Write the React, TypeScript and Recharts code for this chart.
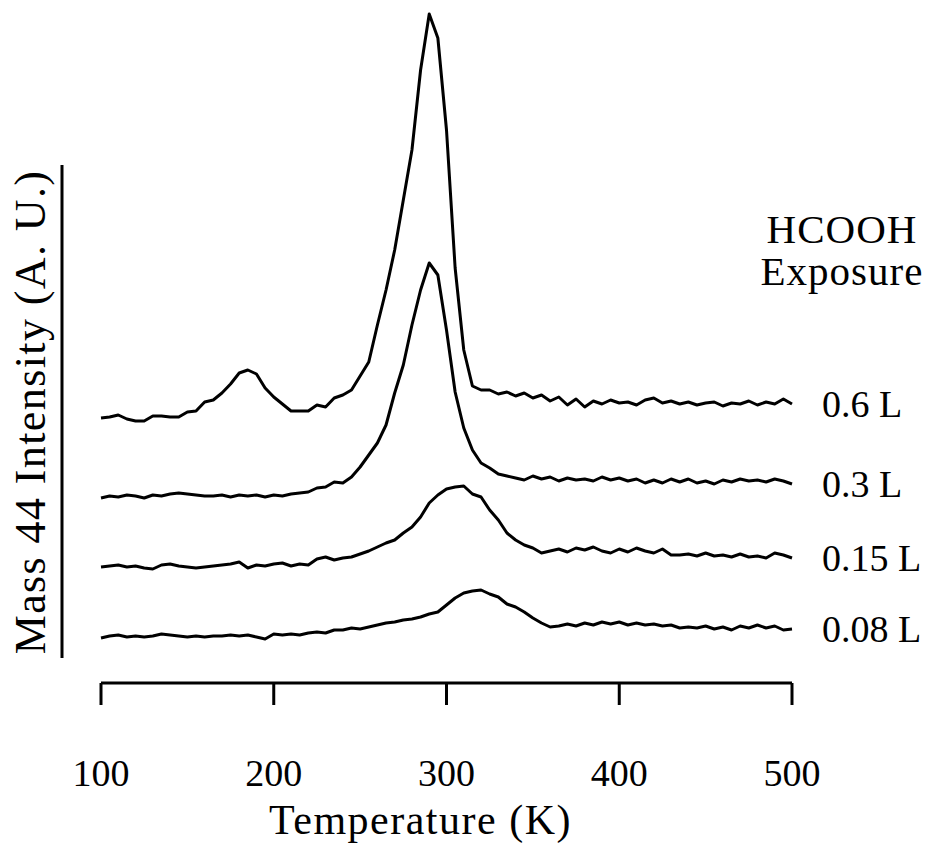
import { LineChart, Line, XAxis, YAxis } from 'recharts'

// temperature grid (K)
const temperatures = [
  100, 105, 110, 115, 120, 125, 130, 135, 140, 145,
  150, 155, 160, 165, 170, 175, 180, 185, 190, 195,
  200, 205, 210, 215, 220, 225, 230, 235, 240, 245,
  250, 255, 260, 265, 270, 275, 280, 285, 290, 295,
  300, 305, 310, 315, 320, 325, 330, 335, 340, 345,
  350, 355, 360, 365, 370, 375, 380, 385, 390, 395,
  400, 405, 410, 415, 420, 425, 430, 435, 440, 445,
  450, 455, 460, 465, 470, 475, 480, 485, 490, 495,
  500,
]

const exposures = ['0.6 L', '0.3 L', '0.15 L', '0.08 L']
// vertical offsets used to stack the traces
const offsets = [53, 37, 23, 9]

// mass 44 signal, A.U., above each trace's offset
const signal06 = [
  0, 0.2, 0.6, -0.2, -0.6, -0.6, 0.4, 0.4, 0.2, 0.2,
  1.2, 1.4, 3.2, 3.6, 5.0, 6.8, 9.0, 9.6, 8.8, 6.0,
  4.2, 2.8, 1.4, 1.4, 1.4, 2.6, 2.2, 4.0, 4.6, 5.6,
  8.4, 11.2, 18.6, 25.6, 33.6, 43.6, 53.6, 69.6, 80.8, 76.0,
  57.6, 30.0, 13.6, 6.4, 5.6, 5.6, 4.8, 5.2, 4.4, 5.0,
  4.0, 4.6, 3.4, 4.2, 2.6, 3.8, 2.2, 3.4, 2.8, 3.6,
  3.0, 3.2, 2.6, 3.6, 4.0, 3.0, 3.4, 2.8, 3.2, 2.6,
  3.0, 3.2, 2.4, 3.0, 2.8, 3.4, 2.6, 3.2, 2.8, 3.8,
  2.8,
]
const signal03 = [
  0, 0.4, 0.2, 0.6, 0.4, 0, 0.6, 0.4, 0.8, 1.0,
  0.8, 0.6, 0.4, 0.4, 0.6, 0.2, 0.6, 0.4, 0.6, 0.2,
  0.6, 0.4, 0.8, 1.0, 1.2, 2.0, 2.2, 3.2, 3.0, 4.2,
  6.2, 8.6, 11.0, 14.6, 21.0, 26.6, 34.6, 41.6, 47.0, 44.6,
  33.6, 21.2, 14.0, 9.6, 7.0, 6.0, 4.8, 4.4, 4.0, 3.6,
  4.4, 3.8, 4.2, 3.4, 4.0, 3.6, 3.8, 3.4, 4.2, 3.6,
  4.0, 3.4, 3.8, 3.0, 3.6, 3.0, 3.8, 3.2, 3.8, 3.0,
  3.4, 2.8, 3.6, 3.2, 3.8, 3.4, 3.6, 3.2, 3.8, 3.4,
  2.8,
]
const signal015 = [
  0.2, 0.4, 0.6, 0.2, 0.4, 0, -0.2, 0.6, 0.8, 0.4,
  0.2, 0, 0.2, 0.4, 0.6, 0.8, 1.2, 0, 0.6, 0.4,
  0.8, 1.0, 0.4, 0.8, 0.6, 1.8, 2.2, 1.6, 2.0, 2.2,
  2.8, 3.4, 4.2, 5.0, 5.6, 7.0, 8.2, 10.2, 13.0, 14.6,
  15.8, 16.2, 16.4, 14.8, 14.2, 11.6, 9.6, 7.0, 5.6, 4.6,
  4.0, 3.0, 3.4, 3.8, 3.2, 4.0, 3.6, 4.2, 3.4, 3.0,
  3.8, 3.2, 4.0, 3.4, 3.0, 3.8, 2.6, 2.6, 2.8, 2.4,
  3.0, 2.4, 2.6, 2.2, 2.8, 2.2, 2.4, 2.0, 3.0, 2.6,
  2.0,
]
const signal008 = [
  0, 0.4, 0.6, 0.2, 0.4, 0.2, 0.4, 0.8, 0.6, 0.4,
  0.2, 0.4, 0.2, 0.4, 0.4, 0.6, 0.4, 0.6, 0.2, -0.2,
  0.8, 0.6, 0.8, 0.6, 1.0, 1.2, 1.0, 1.6, 1.6, 2.0,
  1.8, 2.2, 2.6, 3.0, 3.2, 3.6, 3.8, 4.2, 4.8, 5.2,
  6.6, 8.0, 9.0, 9.4, 9.6, 8.8, 8.2, 6.8, 6.2, 5.2,
  4.0, 3.0, 2.2, 2.4, 2.8, 2.4, 3.0, 2.6, 3.2, 2.8,
  3.2, 2.6, 3.0, 2.6, 2.8, 2.4, 2.6, 2.0, 2.2, 2.0,
  2.4, 1.8, 2.2, 1.6, 2.4, 2.0, 2.6, 2.0, 2.4, 1.6,
  1.8,
]

const xTicks = [100, 200, 300, 400, 500]

const signals = [signal06, signal03, signal015, signal008]
const keys = ['s06', 's03', 's015', 's008']

const data = temperatures.map((t, i) => {
  const row: Record<string, number> = { t }
  keys.forEach((k, j) => {
    row[k] = offsets[j] + signals[j][i]
  })
  return row
})

const serif = '"Liberation Serif", "DejaVu Serif", serif'

const endLabel = (text: string) => (props: any) => {
  if (props.index !== temperatures.length - 1) return null
  const x = props.viewBox?.x ?? props.x
  const y = props.viewBox?.y ?? props.y
  return (
    <text x={x + 30} y={y} dy="0.35em" fill="#000" fontSize={38} fontFamily={serif}>
      {text}
    </text>
  )
}

const YTitle = () => (
  <g>
    <line x1={62} y1={165} x2={62} y2={658} stroke="#000" strokeWidth={3} />
    <text
      x={30}
      y={412}
      transform="rotate(-90 30 412)"
      textAnchor="middle"
      dominantBaseline="central"
      fill="#000"
      fontSize={44}
      letterSpacing={1.4}
      fontFamily={serif}
    >
      Mass 44 Intensity (A. U.)
    </text>
  </g>
)

const noteStyle = {
  textAlign: 'center' as const,
  fontFamily: serif,
  fontSize: 41,
  letterSpacing: 1,
  lineHeight: '42px',
  color: '#000',
}

export default function App() {
  return (
    <div style={{ position: 'absolute', left: 0, top: 0, width: 932, height: 850, background: '#fff' }}>
      <LineChart width={932} height={850} data={data} margin={{ top: 8, right: 140, bottom: 0, left: 0 }}>
        <XAxis
          dataKey="t"
          type="number"
          domain={[100, 500]}
          ticks={xTicks}
          height={167}
          tickSize={22}
          tickMargin={54}
          axisLine={{ stroke: '#000', strokeWidth: 3 }}
          tickLine={{ stroke: '#000', strokeWidth: 3 }}
          tick={{ fill: '#000', fontSize: 38, fontFamily: serif }}
          label={{
            value: 'Temperature (K)',
            position: 'insideBottom',
            offset: 16,
            dx: -26,
            fill: '#000',
            fontSize: 42,
            letterSpacing: 1.5,
            fontFamily: serif,
          }}
        />
        <YAxis
          type="number"
          domain={[0, 135]}
          width={101}
          axisLine={false}
          tickLine={false}
          tick={false}
          label={{ content: YTitle }}
        />
        {keys.map((k, j) => (
          <Line
            key={k}
            dataKey={k}
            type="linear"
            stroke="#000"
            strokeWidth={3}
            strokeLinejoin="round"
            dot={false}
            isAnimationActive={false}
            label={endLabel(exposures[j])}
          />
        ))}
      </LineChart>
      <div style={{ position: 'absolute', left: 752, top: 208, width: 180 }}>
        <div style={noteStyle}>HCOOH</div>
        <div style={noteStyle}>Exposure</div>
      </div>
    </div>
  )
}
